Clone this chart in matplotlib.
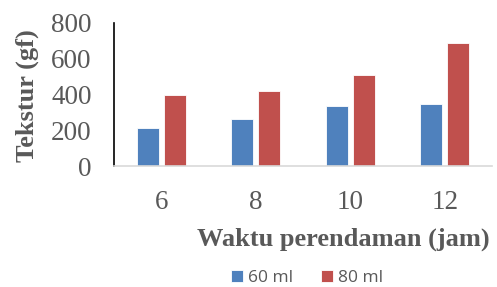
import matplotlib
matplotlib.use("Agg")
import matplotlib.pyplot as plt
import numpy as np

categories = ["6", "8", "10", "12"]
series_60 = [214, 261, 335, 348]
series_80 = [400, 419, 510, 689]
series_names = ["60 ml", "80 ml"]
y_ticks = [0, 200, 400, 600, 800]

W, H = 497, 287
fig = plt.figure(figsize=(W / 100, H / 100), dpi=100)
ax = fig.add_axes([114 / W, 1 - 166 / H, (492 - 114) / W, (166 - 23) / H])

gray = "#595959"
blue = "#4f81bd"
red = "#c0504d"
x = np.arange(len(categories))
bw = 0.235
gap = 0.05
ax.bar(x - (bw + gap) / 2, series_60, bw, color=blue, edgecolor="white", linewidth=0.6, label=series_names[0])
ax.bar(x + (bw + gap) / 2, series_80, bw, color=red, edgecolor="white", linewidth=0.6, label=series_names[1])

ax.set_xlim(-0.5, len(categories) - 0.5)
ax.set_ylim(0, 800)
ax.set_yticks(y_ticks)
ax.set_yticklabels([str(v) for v in y_ticks])
ax.set_xticks(x)
ax.set_xticklabels(categories)
serif = "Liberation Serif"
ax.tick_params(axis="y", length=0, pad=16, labelsize=19.5, labelcolor=gray)
ax.tick_params(axis="x", length=0, pad=17, labelsize=19.5, labelcolor=gray)
for lab in ax.get_xticklabels() + ax.get_yticklabels():
    lab.set_fontfamily(serif)

for s in ["top", "right"]:
    ax.spines[s].set_visible(False)
ax.spines["left"].set_color("black")
ax.spines["left"].set_linewidth(1.2)
ax.spines["bottom"].set_color("#d9d9d9")
ax.spines["bottom"].set_linewidth(1.2)

fig.text(27 / W, 1 - 96 / H, "Tekstur (gf)", rotation=90, ha="center", va="center",
         fontfamily=serif, fontweight="bold", fontsize=19, color=gray)
fig.text(343 / W, 1 - 239 / H, "Waktu perendaman (jam)", ha="center", va="center",
         fontfamily=serif, fontweight="bold", fontsize=19, color=gray)

leg = fig.legend(loc="center", bbox_to_anchor=(307 / W, 1 - 278 / H), ncol=2, frameon=False,
                 prop={"family": "Open Sans", "size": 12.5}, handlelength=0.7, handleheight=0.7,
                 handletextpad=0.3, columnspacing=1.6)
for t in leg.get_texts():
    t.set_color(gray)

fig.savefig("out.png", dpi=100)
